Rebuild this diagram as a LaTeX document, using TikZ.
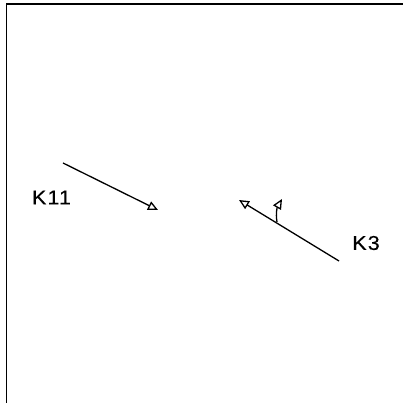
\documentclass[tikz,border=0pt]{standalone}
\usepackage{fontspec}
\setmainfont{Liberation Sans}
\newfontfamily\lblfont[LetterSpace=5,FakeBold=0.3]{Liberation Sans}
\usetikzlibrary{arrows.meta}
\tikzstyle{every node}=[inner sep=0pt,xscale=1.08,font=\lblfont\fontsize{20}{24}\selectfont]
\tikzstyle{pfeil}=[-{Triangle[open,length=10pt,width=9pt]}]

\begin{document}
\begin{tikzpicture}[x=1pt,y=1pt,style={line width=1.3pt}]
	\useasboundingbox (0,0) rectangle (403,403);
	\draw[line width=1.6pt] (6.5,0) -- (6.5,399) -- (403,399);
	\node (k11) at (51.5,205.5) {K11};
	\node (k3) at (366,160) {K3};
	\coordinate (a1) at (63,240);
	\coordinate (a2) at (158,193);
	\coordinate (b1) at (339,142);
	\coordinate (b2) at (239,203);
	\coordinate (c1) at (277,181);
	\coordinate (c2) at (282,204);
	\draw[pfeil] (a1) -- (a2);
	\draw[pfeil] (b1) -- (b2);
	\draw[pfeil] (c1) to[out=100,in=240] (c2);
\end{tikzpicture}
\end{document}
